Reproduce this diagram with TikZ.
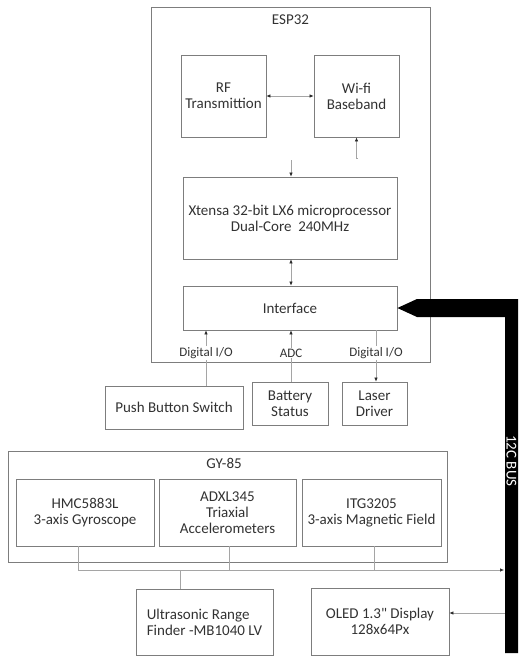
\documentclass[tikz,border=0pt]{standalone}
\usepackage{fontspec}
\setmainfont{Carlito}
\usetikzlibrary{shapes,arrows.meta}
\definecolor{boxgray}{RGB}{125,125,125}
\definecolor{wiregray}{RGB}{165,165,165}
\definecolor{txtgray}{RGB}{50,50,50}
\definecolor{tipgray}{RGB}{40,40,40}

\begin{document}
\begin{tikzpicture}[x=1pt,y=-1pt,
  blk/.style={shape=rectangle,draw=boxgray,line width=0.8pt,inner sep=0pt,align=center,text=txtgray,font=\fontsize{15}{16}\selectfont},
  lbl/.style={inner sep=1pt,text=txtgray,font=\fontsize{15}{16}\selectfont},
  io/.style={inner sep=1pt,text=txtgray,font=\fontsize{13}{14}\selectfont},
  wire/.style={draw=wiregray,line width=0.6pt},
  arr/.style={-{Latex[length=4pt,width=3.5pt,color=tipgray]}},
  darr/.style={{Latex[length=4pt,width=3.5pt,color=tipgray]}-{Latex[length=4pt,width=3.5pt,color=tipgray]}}]
\useasboundingbox (0,0) rectangle (519,656);

% ESP32 module
\node[blk,minimum width=279pt,minimum height=355pt] (esp) at (290.5,184.5) {};
\node[lbl] (esplbl) at (290.5,20) {ESP32};
\node[blk,minimum width=85pt,minimum height=82pt] (rf) at (223.5,96) {RF\\Transmittion};
\node[blk,minimum width=85pt,minimum height=82pt] (wifi) at (356.5,96) {Wi-f{}i\\Baseband};
\node[blk,minimum width=214pt,minimum height=82pt] (cpu) at (290,218) {Xtensa 32-bit LX6 microprocessor\\Dual-Core~ 240MHz};
\node[blk,minimum width=214pt,minimum height=44pt] (iface) at (290,308) {Interface};
\node[io] (dio1) at (206,353) {Digital I/O};
\node[io] (adc) at (291,353) {ADC};
\node[io] (dio2) at (376,353) {Digital I/O};

% peripherals
\node[blk,minimum width=138pt,minimum height=43pt] (push) at (174,407.5) {Push Button Switch};
\node[blk,minimum width=76pt,minimum height=43pt] (batt) at (290,403.5) {Battery\\Status};
\node[blk,minimum width=65pt,minimum height=43pt] (laser) at (374.5,403.5) {Laser\\Driver};

% GY-85 board
\node[blk,minimum width=439pt,minimum height=111pt] (gy) at (227.5,506.5) {};
\node[lbl] (gylbl) at (224,463) {GY-85};
\node[blk,minimum width=138pt,minimum height=67pt] (hmc) at (85,512.5) {HMC5883L\\3-axis Gyroscope};
\node[blk,minimum width=137pt,minimum height=67pt] (adxl) at (227.5,512.5) {ADXL345\\Triaxial\\Accelerometers};
\node[blk,minimum width=139pt,minimum height=67pt] (itg) at (371.5,512.5) {ITG3205\\3-axis Magnetic Field};

\node[blk,align=left,minimum width=137pt,minimum height=66pt] (sonar) at (204.5,622) {Ultrasonic Range\\Finder -MB1040 LV};
\node[blk,minimum width=138pt,minimum height=67pt] (oled) at (380,621.5) {OLED 1.3\textquotedbl{} Display\\128x64Px};

\coordinate (wfree) at (357,158);
\coordinate (cfree) at (291,160);
\coordinate (b0) at (78,570);
\coordinate (bend) at (504,570);
\coordinate (s0) at (180,570);
\coordinate (o0) at (505,613);
\coordinate (tipT) at (417,299);
\coordinate (tipB) at (417,317);

\path [wire,darr] (rf) edge node {} (wifi);
\draw [wire,arr] (wfree) -- (wifi.south |- wfree) -- (wifi.south);
\draw [wire,arr] (cfree) -- (cpu.north -| cfree);
\draw [wire,darr] (cpu.south -| cfree) -- (iface.north -| cfree);

\draw [wire,arr] (dio1.north) -- (dio1.north |- iface.south);
\draw [wire,arr] (adc.north) -- (adc.north |- iface.south);
\draw [wire] (dio2.north |- iface.south) -- (dio2.north);
\draw [wire] (push.north -| dio1) -- (dio1.south);
\draw [wire] (batt.north -| adc) -- (adc.south);
\draw [wire,arr] (dio2.south) -- (laser.north -| dio2);

\draw [wire,arr] (b0) -- (bend);
\draw [wire] (hmc.south -| b0) -- (b0);
\draw [wire] (adxl.south) ++(1.5,0) -- ++(0,24);
\draw [wire] (itg.south) ++(2.5,0) -- ++(0,24);
\draw [wire] (s0) -- (sonar.north -| s0);
\draw [wire,arr] (o0) -- (o0 -| oled.east);

% I2C bus
\fill[black] (iface.east) -- (tipT) -- (518,299) -- (518,653) -- (505,653) -- (505,317) -- (tipB) -- cycle;
\node[rotate=-90,text=white,inner sep=0pt,font=\fontsize{15}{16}\selectfont] (buslbl) at (511.5,461) {12C BUS};
\end{tikzpicture}
\end{document}
